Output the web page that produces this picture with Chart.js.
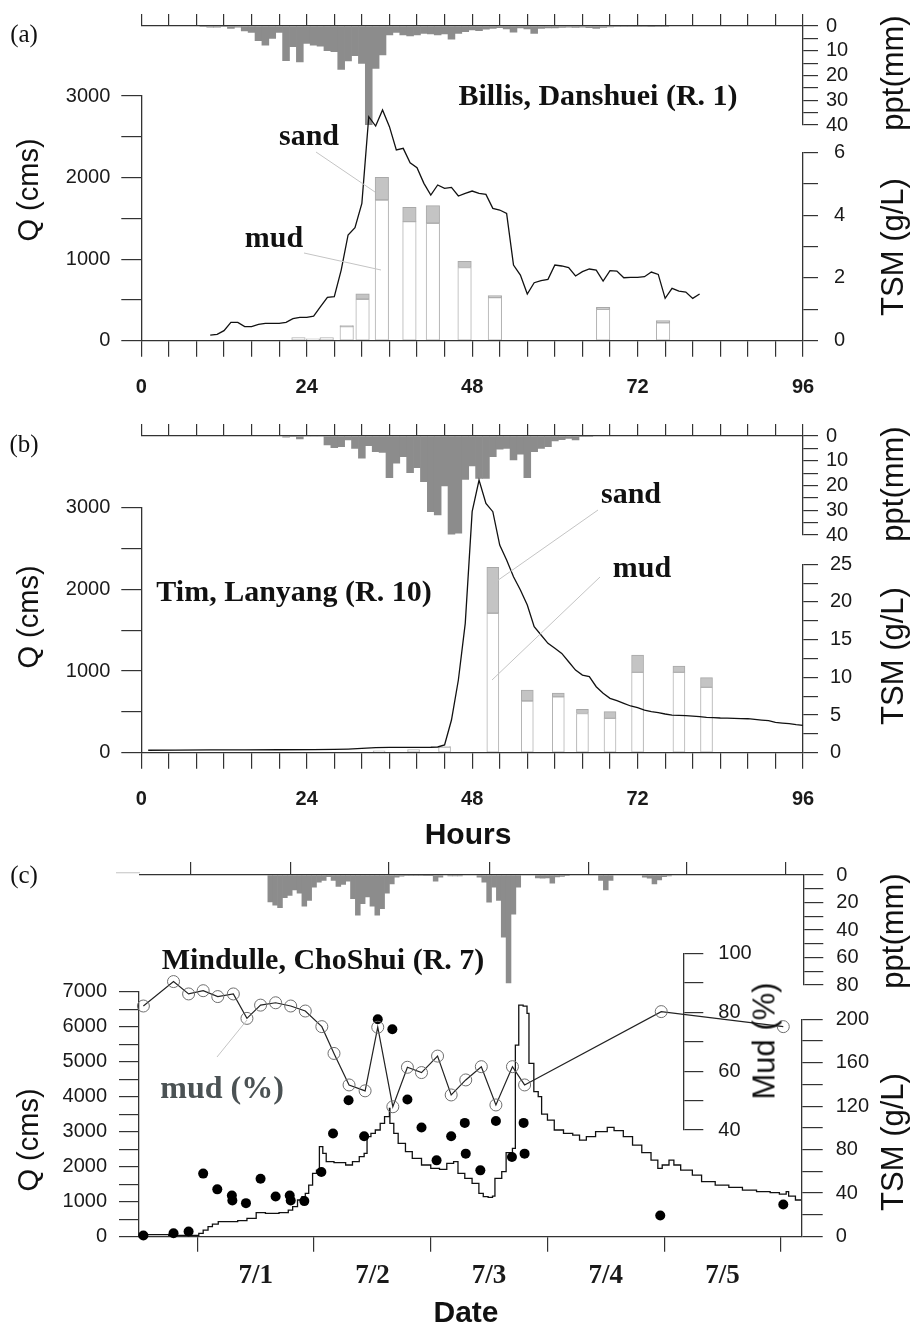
<!DOCTYPE html>
<html><head><meta charset="utf-8">
<script src="https://cdn.jsdelivr.net/npm/chart.js@4.4.1/dist/chart.umd.min.js"></script>
<style>
body{margin:0;background:#fff;}
#wrap{position:relative;width:913px;height:1327px;overflow:hidden;background:#fff;}
canvas{position:absolute;left:0;}
.t{position:absolute;white-space:nowrap;transform:translate(-50%,-50%);line-height:1;color:#111;}
.rot{transform:translate(-50%,-50%) rotate(-90deg);}
.sans{font-family:"Liberation Sans",Arial,sans-serif;}
.serif{font-family:"Liberation Serif","Times New Roman",serif;font-weight:bold;}
svg{position:absolute;left:0;top:0;}
</style></head>
<body><div id="wrap">
<canvas id="a_ppt"></canvas><canvas id="a_tsm"></canvas><canvas id="a_q"></canvas>
<canvas id="b_ppt"></canvas><canvas id="b_tsm"></canvas><canvas id="b_q"></canvas>
<canvas id="c_ppt"></canvas><canvas id="c_q"></canvas><canvas id="c_tsm"></canvas><canvas id="c_mudaxis"></canvas><canvas id="c_mud"></canvas>

<div class="t serif" style="left:24px;top:33px;font-size:25px;font-weight:normal">(a)</div>
<div class="t serif" style="left:24px;top:443px;font-size:25px;font-weight:normal">(b)</div>
<div class="t serif" style="left:24px;top:874px;font-size:25px;font-weight:normal">(c)</div>

<div class="t sans rot" style="left:28px;top:190px;font-size:29px">Q (cms)</div>
<div class="t sans rot" style="left:892px;top:73px;font-size:31px">ppt(mm)</div>
<div class="t sans rot" style="left:892px;top:247px;font-size:31px">TSM (g/L)</div>
<div class="t sans rot" style="left:28px;top:617px;font-size:29px">Q (cms)</div>
<div class="t sans rot" style="left:892px;top:484px;font-size:31px">ppt(mm)</div>
<div class="t sans rot" style="left:892px;top:656px;font-size:31px">TSM (g/L)</div>
<div class="t sans rot" style="left:28px;top:1140px;font-size:29px">Q (cms)</div>
<div class="t sans rot" style="left:892px;top:931px;font-size:31px">ppt(mm)</div>
<div class="t sans rot" style="left:892px;top:1142px;font-size:31px">TSM (g/L)</div>
<div class="t sans rot" style="left:764px;top:1041px;font-size:31px">Mud (%)</div>

<div class="t sans" style="left:468px;top:834px;font-size:30px;font-weight:bold">Hours</div>
<div class="t sans" style="left:466px;top:1312px;font-size:30px;font-weight:bold">Date</div>

<div class="t serif" style="left:598px;top:95px;font-size:30px">Billis, Danshuei (R. 1)</div>
<div class="t serif" style="left:309px;top:135px;font-size:30px">sand</div>
<div class="t serif" style="left:274px;top:237px;font-size:30px">mud</div>
<div class="t serif" style="left:294px;top:591px;font-size:30px">Tim, Lanyang (R. 10)</div>
<div class="t serif" style="left:631px;top:493px;font-size:30px">sand</div>
<div class="t serif" style="left:642px;top:567px;font-size:30px">mud</div>
<div class="t serif" style="left:323px;top:959px;font-size:30px">Mindulle, ChoShui (R. 7)</div>
<div class="t serif" style="left:222px;top:1087px;font-size:32px;color:#4b5254">mud (%)</div>

<svg width="913" height="1327">
<g stroke="#c4c4c4" stroke-width="1">
<line x1="316" y1="152" x2="375" y2="192"/>
<line x1="304" y1="253" x2="381" y2="270"/>
<line x1="598" y1="510" x2="494" y2="583"/>
<line x1="600" y1="577" x2="492" y2="680"/>
<line x1="217" y1="1057" x2="247" y2="1020"/>
</g>
<line x1="116" y1="872.7" x2="140" y2="872.7" stroke="#d0d0d0" stroke-width="1.3"/>
</svg>
</div>
<script>
// ---------------- DATA ----------------
// shared tick labels
const hourLabels = ['0', '24', '48', '72', '96'];
const dateLabels = ['7/1', '7/2', '7/3', '7/4', '7/5'];
const dateLabelHours = [36, 60, 84, 108, 132];   // noon of each day (hours since 6/30 00:00)
const dayTickHours = [24, 48, 72, 96, 120, 144]; // midnights
const pptTickHoursC = [22.7, 43.1, 63.4, 84.0, 104.4, 124.7, 145.0];

// (a) Billis, Danshuei (R. 1)
const pptHoursA = [9,10,11,12,13,14,15,16,17,18,19,20,21,22,23,24,25,26,27,28,29,30,31,32,33,34,35,36,37,38,39,40,41,42,43,44,45,46,47,48,49,50,51,52,53,54,55,56,57,58,59,60,61,62,63,64,65,66,67,68,69,70,71,72,73,74,75,76];
const pptA = [0.3,0.5,0.5,0.3,1,0.5,2,2.6,5.9,7.7,5,2.6,14,8.4,14.5,7,7.7,8.1,10,10.4,17.5,14.1,12,15.1,40,17.1,11.7,3.6,2.6,3.6,4,3.6,3,3.2,3.6,3.2,5.3,3,2.3,1.6,1.9,1.3,1,0.7,1.2,2.5,0.8,1.2,3,1,0.8,0.8,0.6,0.5,0.6,0.5,0.7,1,0.6,0.4,0.3,0.3,0.2,0.2,0.2,0.1,0.3,0.2];
const qHoursA = [10,11,12,13,14,15,16,17,18,19,20,21,22,23,24,25,26,27,28,29,30,31,32,33,34,35,36,37,38,39,40,41,42,43,44,45,46,47,48,49,50,51,52,53,54,55,56,57,58,59,60,61,62,63,64,65,66,67,68,69,70,71,72,73,74,75,76,77,78,79,80,81];
const qA = [69,78,123,225,225,172,172,200,212,212,212,225,270,286,286,302,417,531,540,866,1296,1385,1684,2746,2632,2828,2624,2338,2358,2182,2121,1929,1786,1909,1868,1880,1774,1806,1835,1806,1794,1622,1602,1561,928,805,572,711,736,752,928,916,895,793,846,879,866,732,858,854,772,777,777,785,842,813,519,642,609,597,519,572];
const tsmHoursA = [22.8, 24.9, 26.9, 29.8, 32.1, 34.9, 38.9, 42.3, 46.9, 51.3, 67.0, 75.7];
const mudA  = [0.10, 0.06, 0.10, 0.45, 1.32, 4.48, 3.79, 3.74, 2.33, 1.37, 1.00, 0.57];
const sandA = [0, 0, 0, 0.03, 0.17, 0.72, 0.46, 0.56, 0.20, 0.07, 0.06, 0.07];

// (b) Tim, Lanyang (R. 10)
const pptHoursB = [21,22,23,24,25,26,27,28,29,30,31,32,33,34,35,36,37,38,39,40,41,42,43,44,45,46,47,48,49,50,51,52,53,54,55,56,57,58,59,60,61,62,63,64,65];
const pptB = [0.5,0.3,1.2,0,0,0,3.6,4.7,4.3,1.6,5,9,3.9,6.3,6.6,16.8,11,8.4,14.8,12.8,18.5,30.6,31.9,20.2,39.7,39.3,17.5,12.1,17.1,17.1,8.4,5.3,5,9.7,7.3,16.8,6.3,5,4.3,2,1.5,1,1.6,0.3,0.2];
const qHoursB = [1,5,10,15,20,25,28,30,32,34,36,38,40,42,43,44,45,46,47,48,49,50,51,52,53,54,55,56,57,58,59,60,61,62,63,64,65,66,67,68,69,70,71,72,73,74,75,76,77,78,79,80,81,82,83,84,85,86,87,88,89,90,91,92,93,94,95,96];
const qB = [30,32,35,35,36,38,40,45,53,62,65,65,66,67,70,95,400,890,1584,2951,3338,3053,2951,2543,2359,2155,1992,1808,1543,1441,1339,1278,1216,1114,1012,951,931,808,727,665,637,604,572,551,522,502,490,474,461,457,453,449,441,433,430,425,423,420,418,416,408,400,392,371,363,355,343,335];
const tsmHoursB = [34.5, 39.5, 44.0, 51.0, 56.0, 60.5, 64.0, 68.0, 72.0, 78.0, 82.0];
const mudB  = [0.25, 0.40, 0.75, 18.5, 6.86, 7.40, 5.20, 4.56, 10.66, 10.66, 8.67];
const sandB = [0, 0, 0.05, 6.10, 1.44, 0.50, 0.55, 0.88, 2.31, 0.84, 1.29];

// (c) Mindulle, ChoShui (R. 7)  (hours since 6/30 00:00)
const pptHoursC = [39,40,41,42,43,44,45,46,47,48,49,50,51,52,53,54,55,56,57,58,59,60,61,62,63,64,65,66,67,68,69,70,71,72,73,74,76,77,78,82,83,84,85,86,87,88,89,90,94,95,96,97,98,99,100,107,108,109,116,117,118,119,120,121];
const pptC = [19.6,22,23.7,16.5,14.8,10.8,13.2,22.7,18.4,8.8,5.3,4,1.2,4,8.3,6.9,4.5,17.3,29.2,20.9,16,22.7,29.2,24.4,13.2,6.5,1.5,0.8,0.5,0.5,0.5,0.5,0.3,0.3,4.5,1.5,0.6,0.6,0.6,1.5,5.3,19.8,8.8,18.4,45.3,78.4,28.5,8.8,2.1,2.3,2.1,6,1.4,1,0.5,4,10.8,4,1.5,2.3,6.5,3.5,1.2,0.6];
const qHoursC = [12.0,13.4,18.1,23.8,24.3,25.2,26.2,27.1,28.3,32.3,34.2,36.1,38.0,40.8,42.7,43.6,44.6,45.5,46.2,46.9,47.7,48.5,49.1,49.8,50.5,52.1,54.5,55.9,57.3,58.3,58.9,59.7,60.6,61.6,62.5,63.5,63.6,64.4,65.3,66.8,68.2,70.1,72.0,73.8,75.3,76.7,77.6,79.0,80.5,81.9,82.8,83.8,84.7,85.2,86.6,87.5,88.8,89.4,90.1,91.0,91.8,92.2,93.2,94.1,94.8,96.0,97.4,99.3,101.2,102.6,104.0,105.9,108.3,109.7,111.6,113.5,115.4,117.3,118.7,119.6,121.0,122.0,123.4,125.8,127.7,130.5,133.3,136.1,139.0,141.8,143.7,145.1,145.6,147.0,148.1];
const qC = [95,60,40,35,95,190,286,362,430,457,524,686,667,686,762,857,1048,1143,1238,1476,1810,1905,2571,2381,2143,2114,2048,2143,2286,2381,2857,2952,3048,3238,3429,3667,3238,2952,2667,2429,2238,2048,1952,1924,2095,2143,1810,1667,1524,1238,1143,1124,1162,1667,1857,2400,2524,5476,6619,6590,6381,4952,4143,4000,3505,3333,3048,2952,2905,2762,2857,3000,3124,3029,2857,2619,2400,2190,1952,2048,2190,2048,1905,1762,1571,1476,1410,1333,1286,1257,1219,1286,1162,1048,1067];
const tsmHoursC = [12.9,19.1,22.2,25.2,28.1,31.1,31.2,34.0,37.0,40.1,43.0,43.2,46.0,49.5,51.9,55.1,58.3,61.1,64.1,67.2,70.1,73.2,76.2,79.0,79.2,82.2,85.4,88.7,91.1,91.3,119.2,144.5];
const tsmC = [1,3,4.6,57.9,43.4,37.8,33.2,30.7,53.2,36.9,37.8,33.2,32.6,59.4,94.8,125.5,92.3,200,190.8,126.2,100.3,70.1,92.3,104.6,76.3,60.9,106.4,73.2,104.6,76.3,19.4,29.5];
const mudHoursC = [12.9,19.1,22.2,25.2,28.2,31.4,34.2,37.0,40.1,43.2,46.2,49.6,52.1,55.2,58.5,61.1,64.2,67.2,70.1,73.4,76.2,79.2,82.4,85.4,88.8,91.3,119.4,144.5];
const mudC = [82.1,90.4,86.2,87.3,85.3,86.2,77.9,82.4,83.2,82.1,80.4,75.1,66.0,55.3,53.3,74.9,47.9,61.3,59.5,65.1,51.9,57.0,61.5,48.5,61.5,55.3,80.2,75.1];

// ---------------- HELPERS ----------------
const W = 913;
const AX = '#333333', TX = '#1a1a1a';
const SANS = '"Liberation Sans", Arial, sans-serif';
const SERIF = '"Liberation Serif", "Times New Roman", serif';
const pts = (xs, ys) => xs.map((x, i) => ({x: x, y: ys[i]}));
function range(a, b, s) { const o = []; for (let v = a; v <= b + 1e-9; v += s) o.push(Math.round(v * 1000) / 1000); return o; }
const ticksAt = vals => sc => { sc.ticks = vals.map(v => ({value: v})); };
const grid = (tl, tc) => ({display: true, offset: false, drawOnChartArea: false, drawTicks: true, tickLength: tl, color: AX, lineWidth: 1.2, tickColor: tc || AX, tickWidth: 1.2});
const border = {display: true, color: AX, width: 1.3};
const tk = (pad, cb, font) => ({autoSkip: false, maxRotation: 0, minRotation: 0, padding: pad, color: TX, font: font || {family: SANS, size: 20}, callback: cb});
const hidden = (min, max) => ({type: 'linear', display: false, offset: false, grid: {offset: false}, min: min, max: max});

function mk(id, y0, h, box, scales, datasets) {
  const c = document.getElementById(id);
  c.width = W; c.height = h; c.style.top = y0 + 'px';
  const bx = {l: box.l, r: box.r, t: box.t - y0, b: box.b - y0};
  const has = {};
  for (const k in scales) {
    const s = scales[k];
    s.offset = false;
    if (s.display === false) continue;
    const p = s.position; has[p] = true;
    s.afterFit = sc => {
      if (p === 'left') sc.width = bx.l;
      else if (p === 'right') sc.width = W - bx.r;
      else if (p === 'top') sc.height = bx.t;
      else sc.height = h - bx.b;
    };
  }
  return new Chart(c, {
    type: 'line',
    data: {datasets: datasets},
    options: {
      responsive: false, animation: false, devicePixelRatio: 1, events: [],
      layout: {autoPadding: false, padding: {left: has.left ? 0 : bx.l, right: has.right ? 0 : W - bx.r, top: has.top ? 0 : bx.t, bottom: has.bottom ? 0 : h - bx.b}},
      plugins: {legend: {display: false}, tooltip: {enabled: false}},
      scales: scales
    }
  });
}

const pptBars = (xs, ys) => ({type: 'bar', data: pts(xs, ys), backgroundColor: '#8c8c8c', borderWidth: 0, barPercentage: 1, categoryPercentage: 1});
const mudBars = (xs, m, w) => ({type: 'bar', data: pts(xs, m), backgroundColor: '#ffffff', borderColor: '#b2b2b2', borderWidth: 1, borderSkipped: false, barPercentage: 1, categoryPercentage: 1, maxBarThickness: w, grouped: false});
const sandBars = (xs, m, s, w) => ({type: 'bar', data: xs.map((x, i) => ({x: x, y: [m[i], m[i] + s[i]]})), backgroundColor: '#c4c4c4', borderColor: '#a9a9a9', borderWidth: 1, borderSkipped: false, barPercentage: 1, categoryPercentage: 1, maxBarThickness: w, grouped: false});
const qLine = (xs, ys, stepped) => ({type: 'line', data: pts(xs, ys), borderColor: '#111', borderWidth: 1.3, pointRadius: 0, tension: 0, stepped: !!stepped, clip: false});

const hourTickCb = v => hourLabels.includes(String(v)) ? String(v) : '';
const boldSans = {family: SANS, size: 20, weight: 'bold'};

// ---------------- PANEL (a) ----------------
const L = 141.3, R = 803;
mk('a_ppt', 0, 415, {l: L, r: R, t: 26, b: 125}, {
  x: {type: 'linear', position: 'top', min: 0, max: 96, afterBuildTicks: ticksAt(range(0, 96, 4)), ticks: {display: false}, grid: grid(12), border: border},
  y: {type: 'linear', position: 'right', reverse: true, min: 0, max: 40, afterBuildTicks: ticksAt(range(0, 40, 5)), ticks: tk(8, v => v % 10 === 0 ? String(v) : ''), grid: grid(15), border: border}
}, [pptBars(pptHoursA, pptA)]);
mk('a_tsm', 0, 415, {l: L, r: R, t: 152.3, b: 340.7}, {
  x: hidden(0, 96),
  y: {type: 'linear', position: 'right', min: 0, max: 6, afterBuildTicks: ticksAt(range(0, 6, 1)), ticks: tk(16, v => v % 2 === 0 ? String(v) : ''), grid: grid(15), border: border}
}, [mudBars(tsmHoursA, mudA, 13.5), sandBars(tsmHoursA, mudA, sandA, 13.5)]);
mk('a_q', 0, 415, {l: L, r: R, t: 96, b: 340.7}, {
  x: {type: 'linear', position: 'bottom', min: 0, max: 96, afterBuildTicks: ticksAt(range(0, 96, 4)), ticks: tk(19, hourTickCb, boldSans), grid: grid(16), border: border},
  y: {type: 'linear', position: 'left', min: 0, max: 3000, afterBuildTicks: ticksAt(range(0, 3000, 500)), ticks: tk(11, v => v % 1000 === 0 ? String(v) : ''), grid: grid(20), border: border}
}, [qLine(qHoursA, qA)]);

// ---------------- PANEL (b) ----------------
mk('b_ppt', 405, 445, {l: L, r: R, t: 436, b: 535}, {
  x: {type: 'linear', position: 'top', min: 0, max: 96, afterBuildTicks: ticksAt(range(0, 96, 4)), ticks: {display: false}, grid: grid(12), border: border},
  y: {type: 'linear', position: 'right', reverse: true, min: 0, max: 40, afterBuildTicks: ticksAt(range(0, 40, 5)), ticks: tk(8, v => v % 10 === 0 ? String(v) : ''), grid: grid(15), border: border}
}, [pptBars(pptHoursB, pptB)]);
mk('b_tsm', 405, 445, {l: L, r: R, t: 564.3, b: 752.7}, {
  x: hidden(0, 96),
  y: {type: 'linear', position: 'right', min: 0, max: 25, afterBuildTicks: ticksAt(range(0, 25, 2.5)), ticks: tk(12, v => v % 5 === 0 ? String(v) : ''), grid: grid(15), border: border}
}, [mudBars(tsmHoursB, mudB, 12), sandBars(tsmHoursB, mudB, sandB, 12)]);
mk('b_q', 405, 445, {l: L, r: R, t: 507.7, b: 752.7}, {
  x: {type: 'linear', position: 'bottom', min: 0, max: 96, afterBuildTicks: ticksAt(range(0, 96, 4)), ticks: tk(19, hourTickCb, boldSans), grid: grid(16), border: border},
  y: {type: 'linear', position: 'left', min: 0, max: 3000, afterBuildTicks: ticksAt(range(0, 3000, 500)), ticks: tk(11, v => v % 1000 === 0 ? String(v) : ''), grid: grid(20), border: border}
}, [qLine(qHoursB, qB)]);

// ---------------- PANEL (c) ----------------
const CL = 139, CR = 801, PX = 4.8625; // px per hour
const xMinC = 12, xMaxC = xMinC + (CR - CL) / PX;
mk('c_ppt', 850, 477, {l: 140, r: 803.3, t: 872.7, b: 985}, {
  x: {type: 'linear', position: 'top', min: xMinC + (140 - CL) / PX, max: xMinC + (803.3 - CL) / PX, afterBuildTicks: ticksAt(pptTickHoursC), ticks: {display: false}, grid: grid(13), border: border},
  y: {type: 'linear', position: 'right', reverse: true, min: 0, max: 80, afterBuildTicks: ticksAt(range(0, 80, 10)), ticks: tk(13, v => v % 20 === 0 ? String(v) : ''), grid: grid(20), border: border}
}, [pptBars(pptHoursC, pptC)]);
const dateTicks = dayTickHours.concat(dateLabelHours).sort((a, b) => a - b);
mk('c_q', 850, 477, {l: CL, r: CR, t: 991.7, b: 1236.7}, {
  x: {type: 'linear', position: 'bottom', min: xMinC, max: xMaxC, afterBuildTicks: ticksAt(dateTicks),
      ticks: tk(8, v => { const i = dateLabelHours.indexOf(v); return i >= 0 ? dateLabels[i] : ''; }, {family: SERIF, size: 27, weight: 'bold'}),
      grid: grid(15, ctx => dayTickHours.includes(ctx.tick.value) ? AX : 'rgba(0,0,0,0)'), border: border},
  y: {type: 'linear', position: 'left', min: 0, max: 7000, afterBuildTicks: ticksAt(range(0, 7000, 500)), ticks: tk(12, v => v % 1000 === 0 ? String(v) : ''), grid: grid(20), border: border}
}, [qLine(qHoursC, qC, true)]);
mk('c_tsm', 850, 477, {l: CL, r: 801.7, t: 1019.3, b: 1236.5}, {
  x: hidden(xMinC, xMinC + (801.7 - CL) / PX),
  y: {type: 'linear', position: 'right', min: 0, max: 200, afterBuildTicks: ticksAt(range(0, 200, 20)), ticks: tk(13, v => v % 40 === 0 ? String(v) : ''), grid: grid(21), border: border}
}, [{type: 'line', data: pts(tsmHoursC, tsmC), showLine: false, pointRadius: 5, pointBackgroundColor: '#000', pointBorderColor: '#000', pointBorderWidth: 0, clip: false}]);
mk('c_mudaxis', 850, 477, {l: CL, r: 683.3, t: 953.3, b: 1130}, {
  x: hidden(xMinC, xMinC + (683.3 - CL) / PX),
  y: {type: 'linear', position: 'right', min: 40, max: 100, afterBuildTicks: ticksAt(range(40, 100, 10)), ticks: tk(15, v => v % 20 === 0 ? String(v) : ''), grid: grid(20), border: border}
}, []);
mk('c_mud', 850, 477, {l: CL, r: CR, t: 953.3, b: 1130}, {
  x: hidden(xMinC, xMaxC),
  y: hidden(40, 100)
}, [{type: 'line', data: pts(mudHoursC, mudC), borderColor: '#222', borderWidth: 1.2, tension: 0, pointRadius: 6, pointBackgroundColor: 'rgba(0,0,0,0)', pointBorderColor: '#6e6e6e', pointBorderWidth: 1, clip: false}]);
</script>
</body></html>
